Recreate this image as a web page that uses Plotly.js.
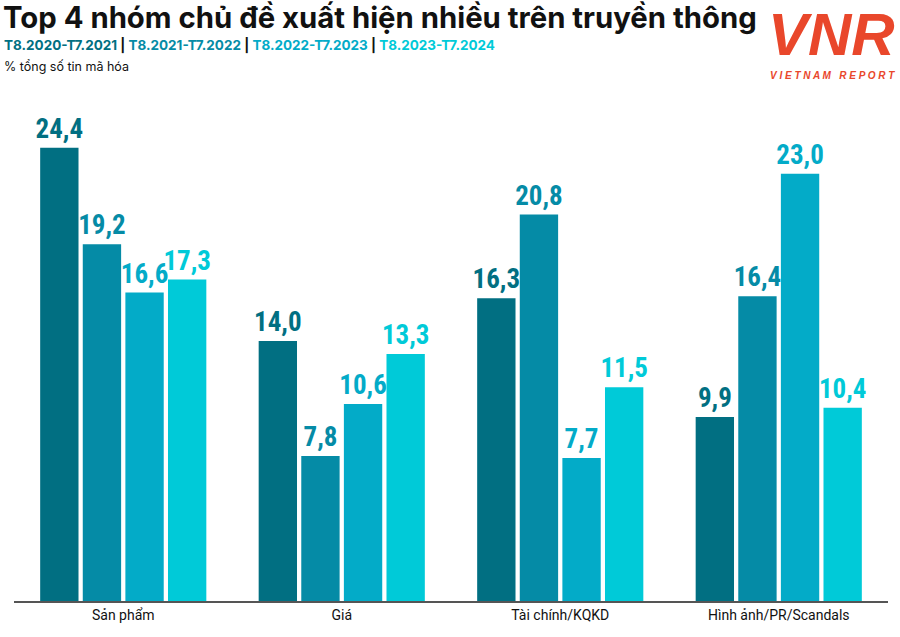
<!DOCTYPE html>
<html>
<head>
<meta charset="utf-8">
<script src="https://cdn.plot.ly/plotly-3.0.1.min.js"></script>
<style>html,body{margin:0;padding:0;background:#fff;}#chart{width:900px;height:637px;}
.bartext{font-stretch:condensed;}</style>
</head>
<body>
<div id="chart"></div>
<script>
const categories = ["Sản phẩm", "Giá", "Tài chính/KQKD", "Hình ảnh/PR/Scandals"];
const periods = ["T8.2020-T7.2021", "T8.2021-T7.2022", "T8.2022-T7.2023", "T8.2023-T7.2024"];
const values2021 = [24.4, 14.0, 16.3, 9.9];
const values2022 = [19.2, 7.8, 20.8, 16.4];
const values2023 = [16.6, 10.6, 7.7, 23.0];
const values2024 = [17.3, 13.3, 11.5, 10.4];
const colors = ["#016f82", "#058ba6", "#03abc8", "#00cad8"];

const series = [values2021, values2022, values2023, values2024];
const fmt = v => v.toFixed(1).replace(".", ",");

const traces = series.map((vals, i) => ({
  type: "bar",
  name: periods[i],
  x: categories,
  y: vals,
  marker: {color: colors[i]},
  text: vals.map(fmt),
  textposition: "outside",
  constraintext: "none",
  cliponaxis: false,
  textfont: {family: "Roboto, Liberation Sans, sans-serif", size: 27, color: colors[i], weight: 700},
  hoverinfo: "none"
}));

const subtitleParts = periods.map((p, i) => `<span style="color:${colors[i]}">${p}</span>`).join('<span style="color:#111"> | </span>');

const layout = {
  width: 900, height: 637,
  margin: {l: 14, r: 12, t: 118, b: 36},
  paper_bgcolor: "#fff", plot_bgcolor: "#fff",
  barmode: "group", bargap: 0.22, bargroupgap: 0.1,
  showlegend: false,
  font: {family: "Open Sans, Roboto, sans-serif"},
  xaxis: {
    type: "category", range: [-0.5, 3.5],
    showline: true, linecolor: "#555", linewidth: 2,
    ticks: "", tickfont: {size: 14, color: "#111", family: "Roboto, Open Sans"},
    showgrid: false, zeroline: false
  },
  yaxis: {range: [0, 26], visible: false, showgrid: false, zeroline: false},
  annotations: [
    {xref: "paper", yref: "paper", x: -0.0145, y: 1.209, xanchor: "left", yanchor: "middle",
     text: "<b>Top 4 nhóm chủ đề xuất hiện nhiều trên truyền thông</b>", showarrow: false,
     font: {size: 29.3, color: "#111", family: "Inter, Roboto, sans-serif"}},
    {xref: "paper", yref: "paper", x: -0.0134, y: 1.151, xanchor: "left", yanchor: "middle",
     text: "<b>" + subtitleParts + "</b>", showarrow: false,
     font: {size: 13.5, family: "Inter, Roboto, sans-serif"}},
    {xref: "paper", yref: "paper", x: -0.0134, y: 1.107, xanchor: "left", yanchor: "middle",
     text: "% tổng số tin mã hóa", showarrow: false,
     font: {size: 12.5, color: "#111", family: "Inter, Roboto, sans-serif"}},
    {xref: "paper", yref: "paper", x: 1.01, y: 1.172, xanchor: "right", yanchor: "middle",
     text: "<i><b>VNR</b></i>", showarrow: false,
     font: {size: 60, color: "#e9472b", family: "Liberation Sans, Arial"}},
    {xref: "paper", yref: "paper", x: 1.01, y: 1.087, xanchor: "right", yanchor: "middle",
     text: "<i><b>V I E T N A M   R E P O R T</b></i>", showarrow: false,
     font: {size: 10, color: "#e9472b", family: "Liberation Sans, Arial"}}
  ]
};

Plotly.newPlot("chart", traces, layout, {displayModeBar: false, staticPlot: true});
</script>
</body>
</html>
